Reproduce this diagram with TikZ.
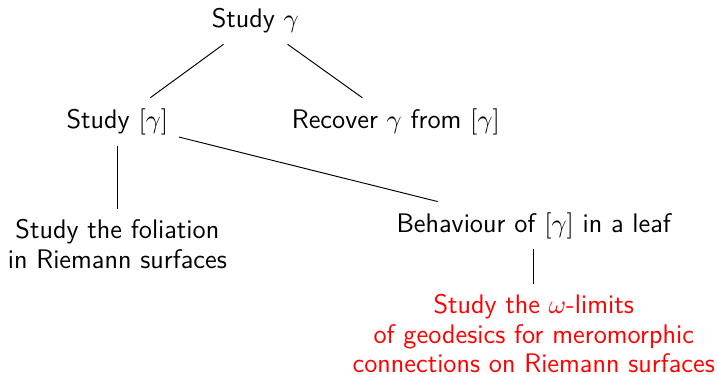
\documentclass[tikz,border=0pt]{standalone}
\usepackage{tikz}

\begin{document}
\begin{tikzpicture}

      \useasboundingbox (0,0) rectangle (10.52,-5.49);

      \begin{scope}[every node/.style={font=\sffamily\fontsize{11.2pt}{12.3pt}\selectfont, inner sep=4.3pt, anchor=base, align=center}]
        \node (study)     at (3.74,-0.41) {Study $\gamma$};
        \node (class)     at (1.72,-1.88) {Study $[\gamma]$};
        \node (recover)   at (5.80,-1.88) {Recover $\gamma$ from $[\gamma]$};
        \node (foliation) at (1.72,-3.93) {Study the foliation\\in Riemann surfaces};
        \node (leaf)      at (7.82,-3.40) {Behaviour of $[\gamma]$ in a leaf};
        \node[red] (limits) at (7.82,-5.46) {Study the $\omega$-limits\\of geodesics for meromorphic\\connections on Riemann surfaces};
      \end{scope}

      \begin{scope}[every edge/.style={draw}]
        \path (study) edge (class);
        \path (study) edge (recover);
        \path (class) edge (foliation);
        \path (class) edge (leaf);
        \path (leaf)  edge (limits);
      \end{scope}

    \end{tikzpicture}
\end{document}
